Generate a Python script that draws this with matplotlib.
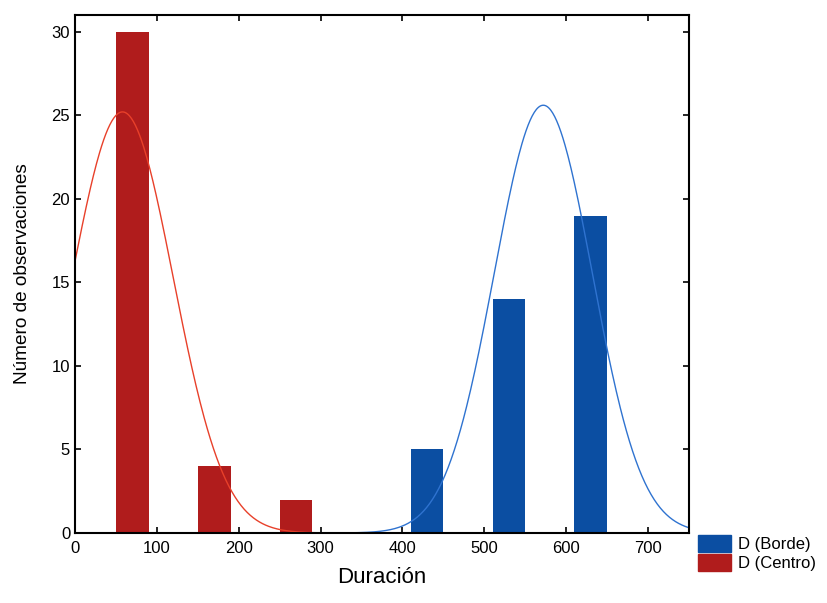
import numpy as np
import matplotlib
matplotlib.use("Agg")
import matplotlib.pyplot as plt
from matplotlib.patches import Patch

plt.rcParams['font.family'] = ['Liberation Sans', 'DejaVu Sans']

# Histogram bins (width 100) and counts
bin_starts = [0, 100, 200, 300, 400, 500, 600, 700]
borde_counts = [0, 0, 0, 0, 5, 14, 19, 0]
centro_counts = [30, 4, 2, 0, 0, 0, 0, 0]

# Fitted normal curves (mean, sd, peak height in observations)
borde_fit = dict(mean=572, sd=60, peak=25.6)
centro_fit = dict(mean=58, sd=62, peak=25.2)

x_ticks = [0, 100, 200, 300, 400, 500, 600, 700]
y_ticks = [0, 5, 10, 15, 20, 25, 30]

blue = "#0B4EA2"
red = "#B01C1C"
blue_line = "#2F73D0"
red_line = "#E8402A"

fig = plt.figure(figsize=(8.27, 6.03), dpi=100)
ax = fig.add_axes([75/827, 1-533/603, (689-75)/827, (533-15)/603])

bs = np.array(bin_starts)
ax.bar(bs + 10, borde_counts, width=40, align='edge', color=blue, zorder=2)
ax.bar(bs + 50, centro_counts, width=40, align='edge', color=red, zorder=2)

xs = np.linspace(0, 750, 600)
def curve(p):
    return p['peak'] * np.exp(-(xs - p['mean'])**2 / (2*p['sd']**2))

ax.plot(xs, curve(borde_fit), color=blue_line, lw=1.0, zorder=3)
ax.plot(xs, curve(centro_fit), color=red_line, lw=1.0, zorder=3)

ax.set_xlim(0, 750)
ax.set_ylim(0, 31)
ax.set_xticks(x_ticks)
ax.set_yticks(y_ticks)
ax.tick_params(direction='in', length=4, width=1.2, top=True, right=True, labelsize=12)
ax.tick_params(axis='x', pad=6)
for s in ax.spines.values():
    s.set_linewidth(1.5)
    s.set_zorder(4)

ax.set_xlabel("Duración", fontsize=16, labelpad=8)
ax.set_ylabel("Número de observaciones", fontsize=13.7, labelpad=15)

handles = [Patch(color=blue, label="D (Borde)"), Patch(color=red, label="D (Centro)")]
fig.legend(handles=handles, loc='upper left', bbox_to_anchor=(698/827, 1-535/603),
           frameon=False, fontsize=12, handlelength=2.0, handleheight=1.2,
           handletextpad=0.4, labelspacing=0.1, borderaxespad=0, borderpad=0)

fig.savefig("out.png", dpi=100)
